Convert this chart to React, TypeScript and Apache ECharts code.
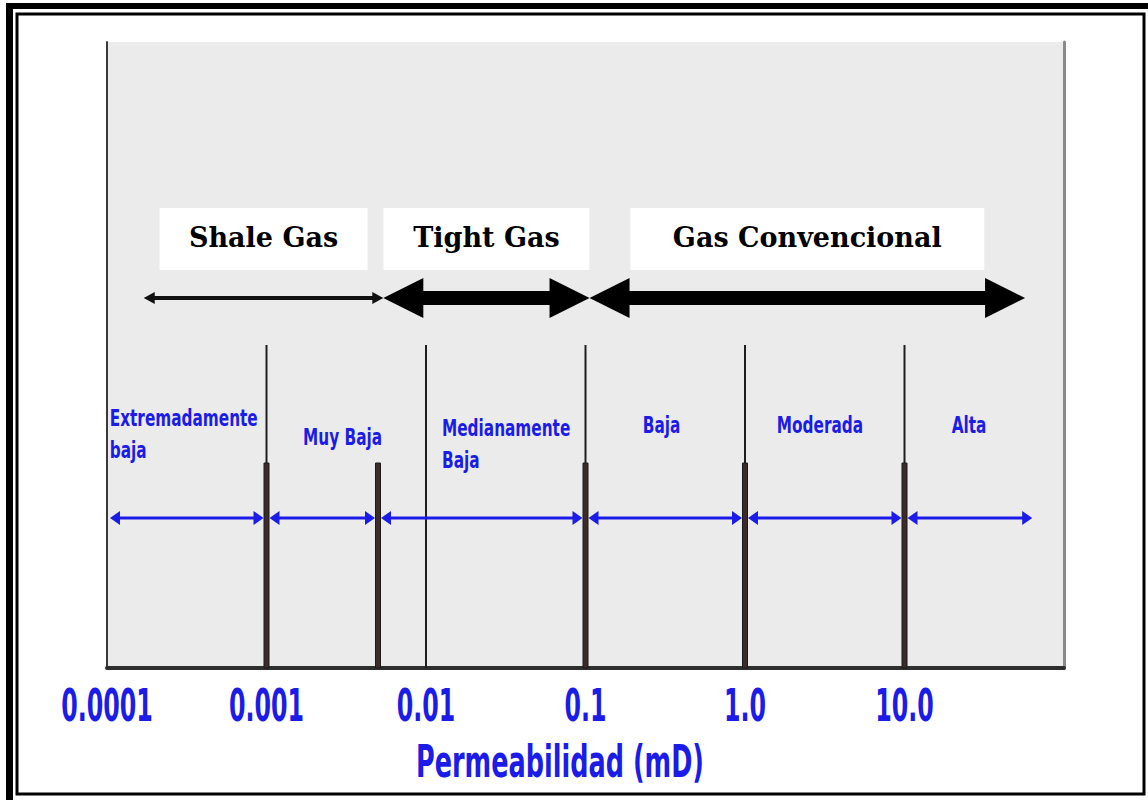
import React, { useEffect, useRef } from "react";
import * as echarts from "echarts";

// ---------------- DATA ----------------
const tickValues = [0.0001, 0.001, 0.01, 0.1, 1, 10];
const tickLabels = ["0.0001", "0.001", "0.01", "0.1", "1.0", "10.0"];
const axisName = "Permeabilidad (mD)";

const boundaryValues = [0.001, 0.005, 0.01, 0.1, 1, 10];
const boundaryHasUpper = [true, false, true, true, true, true];
const boundaryHasThick = [true, true, false, true, true, true];

const classNames = ["Extremadamente\nbaja", "Muy Baja", "Medianamente\nBaja", "Baja", "Moderada", "Alta"];
const classFrom = [0.0001, 0.001, 0.005, 0.1, 1, 10];
const classTo = [0.001, 0.005, 0.1, 1, 10, 66];

const gasNames = ["Shale Gas", "Tight Gas", "Gas Convencional"];
const gasFrom = [0.00017, 0.0054, 0.106];
const gasTo = [0.0054, 0.106, 57];

// ---------------- LAYOUT ----------------
const X_MIN = 0.0001;
const X_MAX = 100;
const classLabelAt = [0.000104, 0.003, 0.0126, 0.3, 2.95, 25.4];
const classLabelAlign = ["left", "center", "left", "center", "center", "center"];
const classLabelOffset = [392, 395, 402, 383, 383, 383];
const gasThick = [false, true, true];
const gasBoxWidth = [208, 206, 354];

const OFF_BOX = 197;
const OFF_GAS = 256;
const OFF_LINE_TOP = 303;
const OFF_THICK_TOP = 421;
const OFF_CLASS = 476;
const OFF_TICK_LABEL = 38;

const BLUE = "#1c1ce8";
const NARROW = "'DejaVu Sans Condensed', 'DejaVu Sans', sans-serif";
const SERIF = "'DejaVu Serif', 'Liberation Serif', serif";

export default function App() {
  const ref = useRef<HTMLDivElement>(null);

  useEffect(() => {
    if (!ref.current) return;
    const chart = echarts.init(ref.current, undefined, { renderer: "svg" });

    const option: any = {
      animation: false,
      backgroundColor: "#ffffff",
      grid: {
        left: 107,
        top: 42,
        width: 957,
        height: 626,
        show: true,
        backgroundColor: "#ebebeb",
        borderWidth: 0,
      },
      xAxis: [
        {
          type: "log",
          logBase: 10,
          min: X_MIN,
          max: X_MAX,
          position: "bottom",
          axisLine: {
            show: true,
            lineStyle: {
              color: "#1e1e1e",
              width: 5,
              shadowColor: "rgba(0,0,0,0.45)",
              shadowBlur: 3,
              shadowOffsetY: 2,
            },
          },
          axisTick: { show: false },
          splitLine: { show: false },
          axisLabel: { show: false },
        },
        {
          type: "value",
          position: "top",
          min: 0,
          max: 1,
          axisLine: { show: true, lineStyle: { color: "#2e2e2e", width: 4 } },
          axisTick: { show: false },
          axisLabel: { show: false },
          splitLine: { show: false },
        },
      ],
      yAxis: [
        {
          type: "value",
          min: 0,
          max: 1,
          position: "left",
          axisLine: { show: true, lineStyle: { color: "#3a3a3a", width: 2 } },
          axisTick: { show: false },
          axisLabel: { show: false },
          splitLine: { show: false },
        },
        {
          type: "value",
          min: 0,
          max: 1,
          position: "right",
          axisLine: { show: true, lineStyle: { color: "#8a8a8a", width: 3 } },
          axisTick: { show: false },
          axisLabel: { show: false },
          splitLine: { show: false },
        },
      ],
      series: [
        {
          type: "custom",
          name: "limites",
          xAxisIndex: 0,
          yAxisIndex: 0,
          data: boundaryValues.map((v, i) => [v, i]),
          encode: { x: 0 },
          renderItem: (params: any, api: any) => {
            const i = api.value(1);
            const x = api.coord([api.value(0), 0])[0];
            const cs = params.coordSys;
            const top = cs.y;
            const bottom = cs.y + cs.height;
            const children: any[] = [];
            if (boundaryHasUpper[i]) {
              children.push({
                type: "line",
                shape: {
                  x1: x,
                  y1: top + OFF_LINE_TOP,
                  x2: x,
                  y2: boundaryHasThick[i] ? top + OFF_THICK_TOP : bottom,
                },
                style: { stroke: "#1e1e1e", lineWidth: 2 },
              });
            }
            if (boundaryHasThick[i]) {
              children.push({
                type: "rect",
                shape: { x: x - 2.5, y: top + OFF_THICK_TOP, width: 5, height: bottom - top - OFF_THICK_TOP },
                style: { fill: "#3f2a2a", stroke: "#1a1a1a", lineWidth: 1 },
              });
            }
            return { type: "group", children };
          },
        },
        {
          type: "custom",
          name: "etiquetas",
          xAxisIndex: 0,
          yAxisIndex: 0,
          data: tickValues.map((v, i) => [v, i]),
          encode: { x: 0 },
          renderItem: (params: any, api: any) => {
            const i = api.value(1);
            const cs = params.coordSys;
            const x = api.coord([api.value(0), 0])[0];
            return {
              type: "text",
              x: x,
              y: cs.y + cs.height + OFF_TICK_LABEL,
              scaleX: 0.6,
              style: {
                text: tickLabels[i],
                x: 0,
                y: 0,
                align: "center",
                verticalAlign: "middle",
                fill: BLUE,
                fontFamily: NARROW,
                fontWeight: "bold",
                fontSize: 44,
              },
            };
          },
        },
        {
          type: "custom",
          name: "clases",
          xAxisIndex: 0,
          yAxisIndex: 0,
          data: classNames.map((_, i) => [classFrom[i], classTo[i], i]),
          encode: { x: [0, 1] },
          renderItem: (params: any, api: any) => {
            const i = api.value(2);
            const cs = params.coordSys;
            const y = cs.y + OFF_CLASS;
            const x1 = api.coord([api.value(0), 0])[0] + 3;
            const x2 = api.coord([api.value(1), 0])[0] - 3;
            const hl = 10;
            const hh = 7;
            const lx = api.coord([classLabelAt[i], 0])[0];
            return {
              type: "group",
              children: [
                {
                  type: "line",
                  shape: { x1: x1 + 4, y1: y, x2: x2 - 4, y2: y },
                  style: { stroke: BLUE, lineWidth: 3 },
                },
                {
                  type: "polygon",
                  shape: { points: [[x1, y], [x1 + hl, y - hh], [x1 + hl, y + hh]] },
                  style: { fill: BLUE },
                },
                {
                  type: "polygon",
                  shape: { points: [[x2, y], [x2 - hl, y - hh], [x2 - hl, y + hh]] },
                  style: { fill: BLUE },
                },
                {
                  type: "text",
                  x: lx,
                  y: cs.y + classLabelOffset[i],
                  scaleX: 0.74,
                  style: {
                    text: classNames[i],
                    x: 0,
                    y: 0,
                    align: classLabelAlign[i],
                    verticalAlign: "middle",
                    fill: BLUE,
                    fontFamily: NARROW,
                    fontWeight: "bold",
                    fontSize: 23,
                    lineHeight: 32,
                  },
                },
              ],
            };
          },
        },
        {
          type: "custom",
          name: "gas",
          xAxisIndex: 0,
          yAxisIndex: 0,
          z: 5,
          data: gasNames.map((_, i) => [gasFrom[i], gasTo[i], i]),
          encode: { x: [0, 1] },
          renderItem: (params: any, api: any) => {
            const i = api.value(2);
            const cs = params.coordSys;
            const y = cs.y + OFF_GAS;
            const x1 = api.coord([api.value(0), 0])[0];
            const x2 = api.coord([api.value(1), 0])[0];
            const cx = (x1 + x2) / 2;
            const children: any[] = [];
            if (gasThick[i]) {
              const hl = 40;
              const hh = 20;
              const sh = 7;
              children.push({
                type: "polygon",
                shape: {
                  points: [
                    [x1, y],
                    [x1 + hl, y - hh],
                    [x1 + hl, y - sh],
                    [x2 - hl, y - sh],
                    [x2 - hl, y - hh],
                    [x2, y],
                    [x2 - hl, y + hh],
                    [x2 - hl, y + sh],
                    [x1 + hl, y + sh],
                    [x1 + hl, y + hh],
                  ],
                },
                style: { fill: "#000000" },
              });
            } else {
              const hl = 11;
              const hh = 6;
              children.push(
                {
                  type: "line",
                  shape: { x1: x1 + 6, y1: y, x2: x2 - 6, y2: y },
                  style: { stroke: "#111111", lineWidth: 4 },
                },
                {
                  type: "polygon",
                  shape: { points: [[x1, y], [x1 + hl, y - hh], [x1 + hl, y + hh]] },
                  style: { fill: "#111111" },
                },
                {
                  type: "polygon",
                  shape: { points: [[x2, y], [x2 - hl, y - hh], [x2 - hl, y + hh]] },
                  style: { fill: "#111111" },
                }
              );
            }
            const bw = gasBoxWidth[i];
            children.push(
              {
                type: "rect",
                shape: { x: cx - bw / 2, y: cs.y + OFF_BOX - 31, width: bw, height: 62 },
                style: { fill: "#ffffff" },
              },
              {
                type: "text",
                style: {
                  text: gasNames[i],
                  x: cx,
                  y: cs.y + OFF_BOX - 2,
                  align: "center",
                  verticalAlign: "middle",
                  fill: "#000000",
                  fontFamily: SERIF,
                  fontWeight: "bold",
                  fontSize: 27,
                },
              }
            );
            return { type: "group", children };
          },
        },
      ],
      graphic: [
        {
          type: "text",
          x: 560,
          y: 762,
          scaleX: 0.645,
          style: {
            text: axisName,
            x: 0,
            y: 0,
            align: "center",
            verticalAlign: "middle",
            fill: BLUE,
            fontFamily: NARROW,
            fontWeight: "bold",
            fontSize: 44,
          },
        },
        {
          type: "rect",
          shape: { x: 6, y: 3, width: 7, height: 797 },
          style: { fill: "#000000" },
          z: 100,
        },
        {
          type: "rect",
          shape: { x: 6, y: 3, width: 1142, height: 6 },
          style: { fill: "#000000" },
          z: 100,
        },
        {
          type: "rect",
          shape: { x: 17, y: 14, width: 1127, height: 780 },
          style: { fill: "none", stroke: "#000000", lineWidth: 3 },
          z: 100,
        },
      ],
    };

    chart.setOption(option);
    return () => chart.dispose();
  }, []);

  return (
    <div
      ref={ref}
      style={{ position: "fixed", left: 0, top: 0, width: 1148, height: 800, background: "#ffffff" }}
    />
  );
}
